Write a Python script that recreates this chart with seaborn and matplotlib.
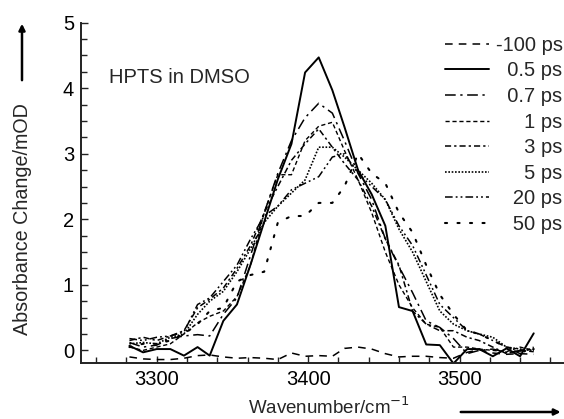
import numpy as np
import pandas as pd
import matplotlib
matplotlib.use("Agg")
import matplotlib.pyplot as plt
from matplotlib.patches import FancyArrowPatch
import seaborn as sns

# ---- data ----
wavenumber = [3282, 3291, 3300, 3309, 3318, 3327, 3335, 3344, 3353, 3362, 3371,
              3380, 3389, 3398, 3407, 3416, 3424, 3433, 3442, 3451, 3460, 3469,
              3478, 3487, 3496, 3505, 3513, 3522, 3531, 3540, 3549]

m100ps = [-0.10, -0.13, -0.14, -0.14, -0.12, -0.08, -0.07, -0.10, -0.12, -0.11, -0.12,
          -0.14, -0.04, -0.09, -0.08, -0.09, 0.03, 0.05, 0.02, -0.05, -0.10, -0.09,
          -0.09, -0.11, -0.12, -0.03, 0.01, -0.04, -0.06, -0.05, -0.06]
p05ps = [0.07, -0.03, 0.02, 0.02, -0.08, 0.05, -0.08, 0.45, 0.70, 1.31, 1.96,
         2.61, 3.15, 4.24, 4.47, 3.97, 3.41, 2.75, 2.38, 1.90, 0.66, 0.60,
         0.09, 0.08, -0.20, 0.02, 0.02, -0.09, 0.03, -0.09, 0.26]
p07ps = [0.12, 0.05, 0.08, 0.18, 0.22, 0.24, 0.22, 0.55, 0.80, 1.45, 2.10,
         2.70, 3.20, 3.55, 3.77, 3.62, 3.20, 2.70, 2.30, 1.70, 1.28, 0.88,
         0.45, 0.35, 0.18, -0.05, 0.00, 0.02, -0.03, -0.01, 0.02]
p1ps = [0.05, 0.00, 0.05, 0.10, 0.25, 0.42, 0.52, 0.60, 0.82, 1.30, 2.10,
        2.68, 2.68, 3.20, 3.42, 3.48, 3.05, 2.60, 2.10, 1.50, 1.00, 0.65,
        0.40, 0.35, 0.05, 0.05, 0.02, 0.00, -0.02, 0.05, 0.00]
p3ps = [0.15, 0.20, 0.15, 0.22, 0.30, 0.65, 0.78, 0.95, 1.25, 1.60, 2.10,
        2.50, 2.90, 3.15, 3.38, 3.10, 2.85, 2.60, 2.20, 1.70, 1.30, 0.60,
        0.40, 0.30, 0.30, 0.20, 0.15, 0.05, -0.05, 0.00, -0.02]
p5ps = [0.10, 0.12, 0.10, 0.20, 0.25, 0.55, 0.75, 0.90, 1.20, 1.55, 1.95,
        2.20, 2.40, 2.60, 3.10, 3.10, 2.95, 2.75, 2.55, 2.30, 1.85, 1.50,
        1.05, 0.60, 0.40, 0.30, 0.25, 0.20, 0.05, 0.02, 0.00]
p20ps = [0.18, 0.15, 0.20, 0.22, 0.28, 0.70, 0.80, 1.05, 1.30, 1.70, 2.05,
         2.20, 2.45, 2.55, 2.65, 2.95, 3.00, 2.70, 2.50, 2.30, 1.90, 1.60,
         1.15, 0.70, 0.50, 0.30, 0.25, 0.15, 0.05, -0.05, 0.05]
p50ps = [0.05, 0.10, 0.10, 0.15, 0.25, 0.40, 0.60, 0.65, 1.05, 1.15, 1.20,
         1.95, 2.05, 2.05, 2.25, 2.25, 2.50, 3.00, 2.70, 2.55, 2.10, 1.80,
         1.30, 0.85, 0.55, 0.30, 0.25, 0.15, 0.05, 0.00, 0.02]

labels = ["-100 ps", "0.5 ps", "0.7 ps", "1 ps", "3 ps", "5 ps", "20 ps", "50 ps"]
series = [m100ps, p05ps, p07ps, p1ps, p3ps, p5ps, p20ps, p50ps]

# ---- styles ----
FS = "\u2007"   # figure space (digit width)
PS = "\u2008"   # punctuation space
legend_labels = ["-100 ps", FS + "0.5 ps", FS + "0.7 ps", FS + FS + PS + "1 ps",
                 FS + FS + PS + "3 ps", FS + FS + PS + "5 ps", FS + PS + "20 ps",
                 FS + PS + "50 ps"]
styles = [
    dict(linestyle=(0, (5, 4)), linewidth=1.1),
    dict(linestyle="-", linewidth=1.4),
    dict(linestyle=(0, (7, 3, 1.5, 3)), linewidth=1.1),
    dict(linestyle=(0, (3, 2)), linewidth=1.0),
    dict(linestyle=(0, (4, 2, 1.5, 2)), linewidth=1.1),
    dict(linestyle=(0, (1, 1)), linewidth=1.2),
    dict(linestyle=(0, (5, 2, 1.2, 2, 1.2, 2)), linewidth=1.1),
    dict(linestyle=(0, (1, 5)), linewidth=1.5, dash_capstyle="round"),
]

sns.set_style("ticks")
plt.rcParams["font.family"] = ["Liberation Sans", "DejaVu Sans"]

fig = plt.figure(figsize=(5.64, 4.19), dpi=100)
ax = fig.add_axes([0.1436, 0.1325, 0.8564, 0.8134])

for vals, lab, st in zip(series, legend_labels, styles):
    df = pd.DataFrame({"x": wavenumber, "y": vals})
    sns.lineplot(data=df, x="x", y="y", ax=ax, color="black", label=lab,
                 sort=False, estimator=None, **st)

ax.set_xlim(3250, 3569)
ax.set_ylim(-0.2, 5)
ax.set_xticks([3300, 3400, 3500])
ax.set_xticks(np.arange(3260, 3570, 20), minor=True)
ax.set_yticks([0, 1, 2, 3, 4, 5])
ax.set_yticks(np.arange(0, 5.01, 0.25), minor=True)
ax.tick_params(which="both", direction="in", color="#222222", width=1.0,
               labelsize=14.5, labelcolor="black")
ax.tick_params(which="major", length=5, pad=5)
ax.tick_params(which="minor", length=4)
for s in ["top", "right"]:
    ax.spines[s].set_visible(False)
for s in ["left", "bottom"]:
    ax.spines[s].set_linewidth(1.4)
    ax.spines[s].set_color("#222222")

ax.set_xlabel("Wavenumber/cm$^{-1}$", fontsize=13.5)
ax.set_ylabel("Absorbance Change/mOD", fontsize=14.2)
ax.xaxis.set_label_coords(0.514, -0.148)
ax.xaxis.label.set_va("baseline")
ax.yaxis.set_label_coords(-0.122, 0.425)
ax.yaxis.label.set_va("center")

ax.text(3268.5, 4.17, "HPTS in DMSO", fontsize=14.5, ha="left", va="center")

leg = ax.legend(loc="upper right", bbox_to_anchor=(0.999, 0.915),
                bbox_transform=fig.transFigure, frameon=False, fontsize=14.5,
                handlelength=2.2, handletextpad=0.35, labelspacing=0.33,
                borderpad=0, borderaxespad=0)

# axis arrows
fig.add_artist(FancyArrowPatch((0.039, 0.802), (0.039, 0.950),
                               transform=fig.transFigure, arrowstyle="-|>",
                               mutation_scale=9, lw=1.8, color="black"))
fig.add_artist(FancyArrowPatch((0.812, 0.0167), (0.999, 0.0167),
                               transform=fig.transFigure, arrowstyle="-|>",
                               mutation_scale=9, lw=1.8, color="black"))

fig.savefig("out.png", dpi=100)
